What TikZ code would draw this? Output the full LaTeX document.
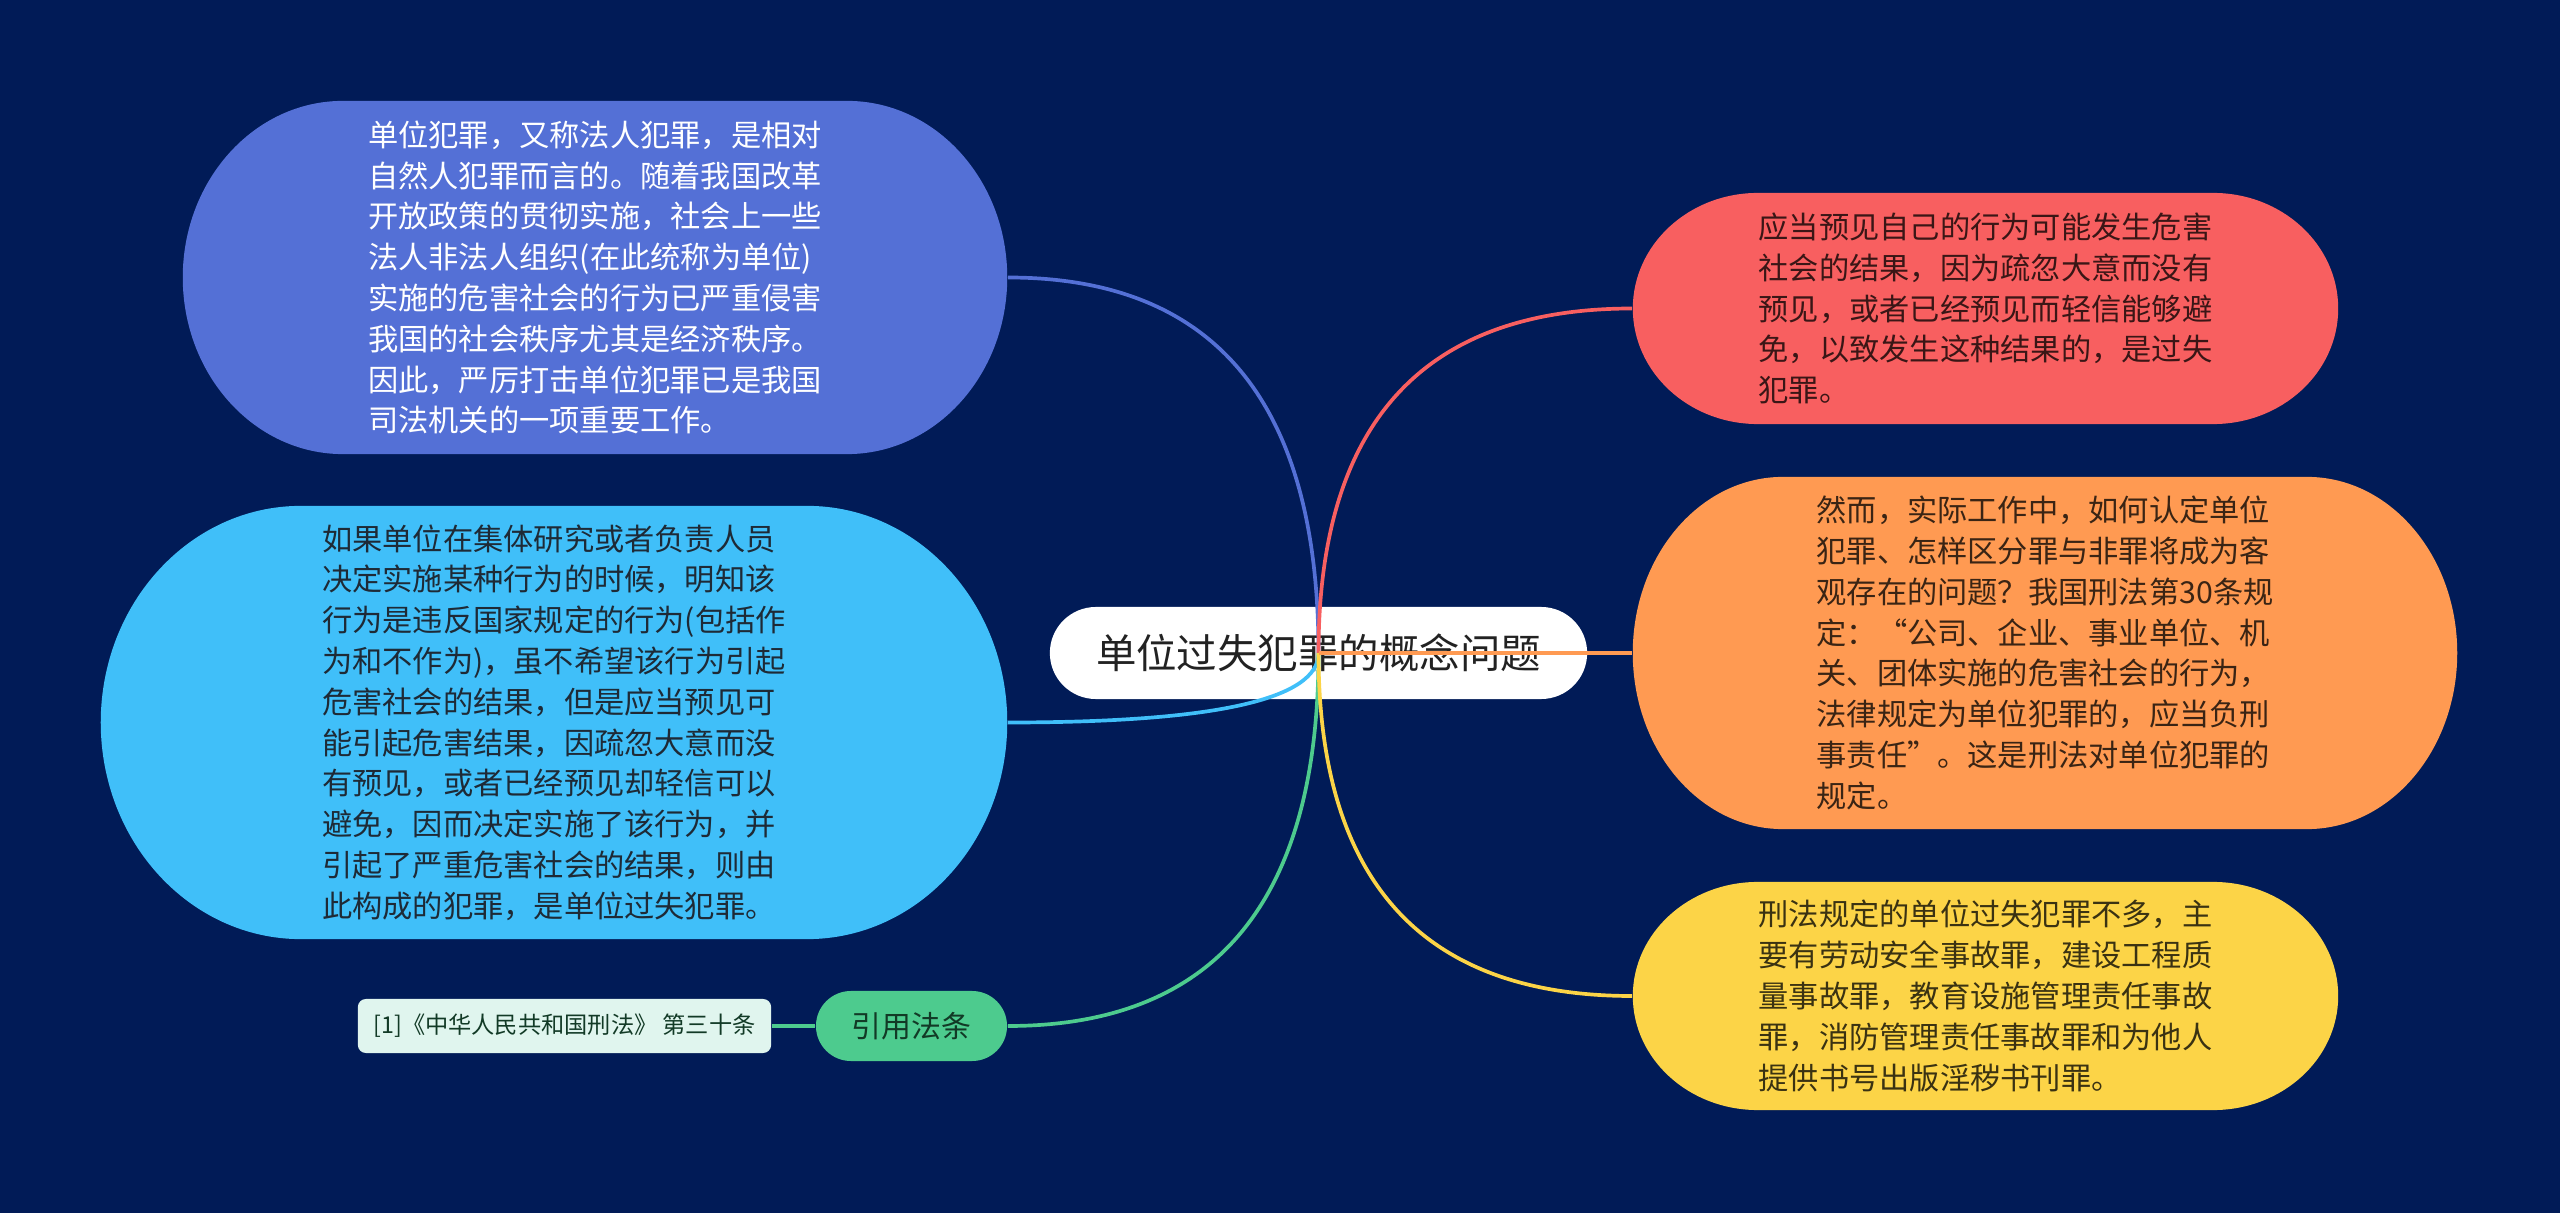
\documentclass[tikz,border=0pt]{standalone}
\usepackage{fontspec}
\newfontfamily\cjk{Noto Sans CJK SC}
\usetikzlibrary{calc}
\definecolor{bg}{HTML}{011B57}
\definecolor{cblue}{HTML}{5470D6}
\definecolor{clight}{HTML}{40BFF9}
\definecolor{cgreen}{HTML}{4DCB8E}
\definecolor{cred}{HTML}{F85F60}
\definecolor{corange}{HTML}{FF9A52}
\definecolor{cyellow}{HTML}{FCD447}
\definecolor{ccite}{HTML}{E0F5EE}
\definecolor{tdark}{HTML}{1E2A36}
\definecolor{tred}{HTML}{3A1616}
\definecolor{torange}{HTML}{3A2414}
\definecolor{tyellow}{HTML}{3A3212}
\definecolor{tgreen}{HTML}{123A26}
\definecolor{tcenter}{HTML}{222222}
\tikzset{
  bodybox/.style={inner sep=0pt, align=left, font=\cjk\fontsize{8.6}{11.6}\selectfont},
  ebox/.style n args={3}{fill=bg, path picture={
    \fill[#1] ($(path picture bounding box.north west)+(#2,0)$)
      -- ($(path picture bounding box.north east)+(-#2,0)$)
      arc[start angle=90,end angle=-90,x radius=#2,y radius=#3]
      -- ($(path picture bounding box.south west)+(#2,0)$)
      arc[start angle=270,end angle=90,x radius=#2,y radius=#3]
      -- cycle;}},
  conn/.style={draw=#1, line width=1.05pt},
}
\begin{document}
\begin{tikzpicture}[x=0.01cm,y=-0.01cm]
\fill[bg] (0,0) rectangle (2560,1213);
\useasboundingbox (0,0) rectangle (2560,1213);

% nodes
\node[bodybox, ebox={cblue}{1.6cm}{1.765cm}, text=white, minimum width=8.24cm, minimum height=3.53cm] (n1) at (595,277.5) {单位犯罪，又称法人犯罪，是相对\\自然人犯罪而言的。随着我国改革\\开放政策的贯彻实施，社会上一些\\法人非法人组织(在此统称为单位)\\实施的危害社会的行为已严重侵害\\我国的社会秩序尤其是经济秩序。\\因此，严厉打击单位犯罪已是我国\\司法机关的一项重要工作。};

\node[bodybox, ebox={clight}{2.0cm}{2.165cm}, text=tdark, minimum width=9.06cm, minimum height=4.33cm] (n2) at (554,722.5) {如果单位在集体研究或者负责人员\\决定实施某种行为的时候，明知该\\行为是违反国家规定的行为(包括作\\为和不作为)，虽不希望该行为引起\\危害社会的结果，但是应当预见可\\能引起危害结果，因疏忽大意而没\\有预见，或者已经预见却轻信可以\\避免，因而决定实施了该行为，并\\引起了严重危害社会的结果，则由\\此构成的犯罪，是单位过失犯罪。};

\node[fill=cgreen, text=tgreen, rounded corners=0.35cm, minimum width=1.91cm, minimum height=0.70cm, inner sep=0pt, font=\cjk\fontsize{8.5}{10}\selectfont] (g) at (911.5,1026) {引用法条};

\node[fill=ccite, text=tgreen, rounded corners=0.08cm, minimum width=4.13cm, minimum height=0.54cm, inner sep=0pt, font=\cjk\fontsize{6.6}{8}\selectfont] (cite) at (564.5,1026) {[1]《中华人民共和国刑法》 第三十条};

\node[bodybox, ebox={cred}{1.25cm}{1.155cm}, text=tred, minimum width=7.05cm, minimum height=2.31cm] (r) at (1985.5,308.5) {应当预见自己的行为可能发生危害\\社会的结果，因为疏忽大意而没有\\预见，或者已经预见而轻信能够避\\免，以致发生这种结果的，是过失\\犯罪。};

\node[bodybox, ebox={corange}{1.5cm}{1.76cm}, text=torange, minimum width=8.24cm, minimum height=3.52cm] (o) at (2045,653) {然而，实际工作中，如何认定单位\\犯罪、怎样区分罪与非罪将成为客\\观存在的问题？我国刑法第30条规\\定：“公司、企业、事业单位、机\\关、团体实施的危害社会的行为，\\法律规定为单位犯罪的，应当负刑\\事责任”。这是刑法对单位犯罪的\\规定。};

\node[bodybox, ebox={cyellow}{1.25cm}{1.14cm}, text=tyellow, minimum width=7.05cm, minimum height=2.28cm] (y) at (1985.5,996) {刑法规定的单位过失犯罪不多，主\\要有劳动安全事故罪，建设工程质\\量事故罪，教育设施管理责任事故\\罪，消防管理责任事故罪和为他人\\提供书号出版淫秽书刊罪。};

\node[fill=white, text=tcenter, rounded corners=0.46cm, minimum width=5.37cm, minimum height=0.92cm, inner sep=0pt, font=\cjk\fontsize{11.5}{13}\selectfont] (c) at (1318.5,653) {单位过失犯罪的概念问题};

% corner points for curves
\coordinate (k1) at (c.center |- n1.east);
\coordinate (k2) at (c.center |- n2.east);
\coordinate (k3) at (c.center |- g.east);
\coordinate (k4) at (c.center |- r.west);
\coordinate (k5) at (c.center |- y.west);

% connectors
\draw[conn=cgreen] (cite.east) -- (g.west);
\draw[conn=cblue] (c.center) .. controls ($(c.center)!0.667!(k1)$) and ($(n1.east)!0.667!(k1)$) .. (n1.east);
\draw[conn=clight] (c.center) .. controls ($(c.center)!0.667!(k2)$) and ($(n2.east)!0.667!(k2)$) .. (n2.east);
\draw[conn=cgreen] (c.center) .. controls ($(c.center)!0.667!(k3)$) and ($(g.east)!0.667!(k3)$) .. (g.east);
\draw[conn=cred] (c.center) .. controls ($(c.center)!0.667!(k4)$) and ($(r.west)!0.667!(k4)$) .. (r.west);
\draw[conn=cyellow] (c.center) .. controls ($(c.center)!0.667!(k5)$) and ($(y.west)!0.667!(k5)$) .. (y.west);
\draw[conn=corange] (c.center) -- (o.west);
\end{tikzpicture}
\end{document}
